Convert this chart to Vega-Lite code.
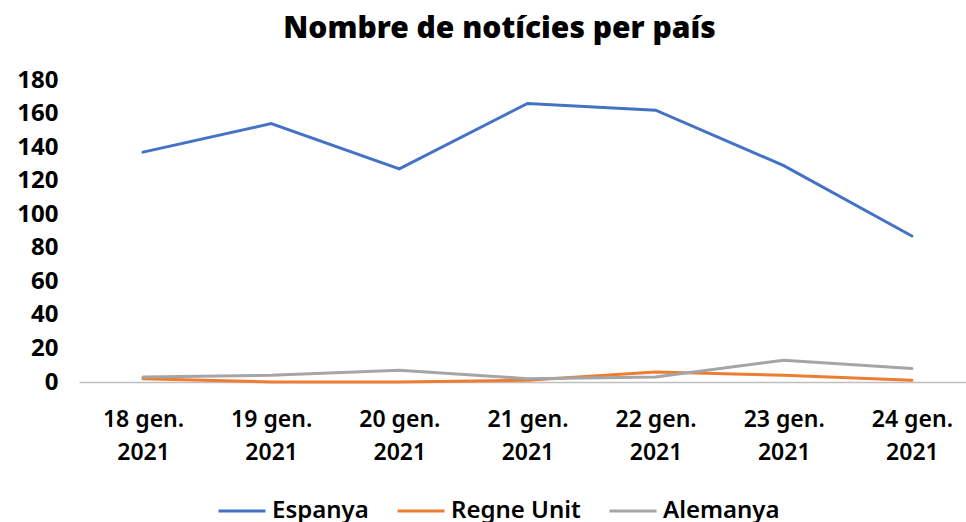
{
  "$schema": "https://vega.github.io/schema/vega-lite/v6.json",
  "autosize": {"type": "none"},
  "width": 887,
  "height": 302,
  "padding": {"left": 79, "top": 80, "right": 0, "bottom": 140},
  "background": "white",
  "title": {
    "text": "Nombre de notícies per país",
    "font": "Noto Sans",
    "fontSize": 30,
    "fontWeight": 900,
    "color": "#000000",
    "dx": -23,
    "offset": 24
  },
  "config": {
    "view": {"stroke": null},
    "font": "Noto Sans"
  },
  "data": {
    "values": [
      {"dia": "18 gen. 2021", "ordre": 1, "pais": "Espanya", "n": 137},
      {"dia": "19 gen. 2021", "ordre": 2, "pais": "Espanya", "n": 154},
      {"dia": "20 gen. 2021", "ordre": 3, "pais": "Espanya", "n": 127},
      {"dia": "21 gen. 2021", "ordre": 4, "pais": "Espanya", "n": 166},
      {"dia": "22 gen. 2021", "ordre": 5, "pais": "Espanya", "n": 162},
      {"dia": "23 gen. 2021", "ordre": 6, "pais": "Espanya", "n": 129},
      {"dia": "24 gen. 2021", "ordre": 7, "pais": "Espanya", "n": 87},
      {"dia": "18 gen. 2021", "ordre": 1, "pais": "Regne Unit", "n": 2},
      {"dia": "19 gen. 2021", "ordre": 2, "pais": "Regne Unit", "n": 0},
      {"dia": "20 gen. 2021", "ordre": 3, "pais": "Regne Unit", "n": 0},
      {"dia": "21 gen. 2021", "ordre": 4, "pais": "Regne Unit", "n": 1},
      {"dia": "22 gen. 2021", "ordre": 5, "pais": "Regne Unit", "n": 6},
      {"dia": "23 gen. 2021", "ordre": 6, "pais": "Regne Unit", "n": 4},
      {"dia": "24 gen. 2021", "ordre": 7, "pais": "Regne Unit", "n": 1},
      {"dia": "18 gen. 2021", "ordre": 1, "pais": "Alemanya", "n": 3},
      {"dia": "19 gen. 2021", "ordre": 2, "pais": "Alemanya", "n": 4},
      {"dia": "20 gen. 2021", "ordre": 3, "pais": "Alemanya", "n": 7},
      {"dia": "21 gen. 2021", "ordre": 4, "pais": "Alemanya", "n": 2},
      {"dia": "22 gen. 2021", "ordre": 5, "pais": "Alemanya", "n": 3},
      {"dia": "23 gen. 2021", "ordre": 6, "pais": "Alemanya", "n": 13},
      {"dia": "24 gen. 2021", "ordre": 7, "pais": "Alemanya", "n": 8}
    ]
  },
  "mark": {"type": "line", "strokeWidth": 3, "strokeCap": "round"},
  "encoding": {
    "x": {
      "field": "dia",
      "type": "ordinal",
      "sort": {"field": "ordre"},
      "scale": {"type": "point", "padding": 0.461, "align": 0.542},
      "axis": {
        "title": null,
        "labelAngle": 0,
        "ticks": false,
        "domainColor": "#BFBFBF",
        "domainWidth": 1.5,
        "labelFont": "Noto Sans",
        "labelFontSize": 23,
        "labelFontWeight": 600,
        "labelColor": "#000000",
        "labelPadding": 26,
        "labelLineHeight": 33,
        "labelExpr": "[slice(datum.label, 0, 7), slice(datum.label, 8)]"
      }
    },
    "y": {
      "field": "n",
      "type": "quantitative",
      "scale": {"domain": [0, 180]},
      "axis": {
        "title": null,
        "values": [0, 20, 40, 60, 80, 100, 120, 140, 160, 180],
        "grid": false,
        "domain": false,
        "ticks": false,
        "labelFont": "Noto Sans",
        "labelFontSize": 24,
        "labelFontWeight": "bold",
        "labelColor": "#000000",
        "labelPadding": 21
      }
    },
    "color": {
      "field": "pais",
      "type": "nominal",
      "sort": ["Espanya", "Regne Unit", "Alemanya"],
      "scale": {
        "domain": ["Espanya", "Regne Unit", "Alemanya"],
        "range": ["#4472C4", "#ED7D31", "#A5A5A5"]
      },
      "legend": {
        "title": null,
        "orient": "none",
        "direction": "horizontal",
        "legendX": 138,
        "legendY": 406,
        "symbolType": "stroke",
        "symbolSize": 2209,
        "symbolStrokeWidth": 3,
        "labelFont": "Noto Sans",
        "labelFontSize": 24,
        "labelFontWeight": 600,
        "labelColor": "#000000",
        "labelOffset": 5,
        "columnPadding": 22
      }
    }
  }
}
